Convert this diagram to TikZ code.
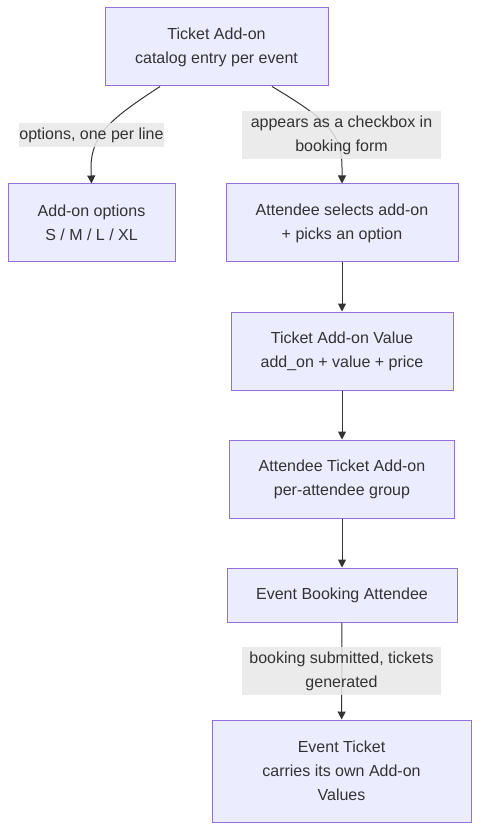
\documentclass[tikz,border=0pt]{standalone}
\usepackage{fontspec}
\setmainfont{Liberation Sans}
\usepackage{tikz}
\usetikzlibrary{calc,arrows.meta,positioning}

\definecolor{boxfill}{HTML}{ECECFF}
\definecolor{boxline}{HTML}{9370DB}
\definecolor{ink}{HTML}{333333}
\definecolor{labelfill}{HTML}{E8E8E8}

\begin{document}
\begin{tikzpicture}[
  x=0.75pt, y=-0.75pt,
  box/.style={rectangle, draw=boxline, fill=boxfill, line width=0.75pt, text=ink, align=center,
    font=\fontsize{12}{18}\selectfont, inner sep=0pt},
  edge label/.style={rectangle, fill=labelfill, fill opacity=0.85, text opacity=1, text=ink, align=center,
    font=\fontsize{12}{18}\selectfont, inner sep=0pt},
  link/.style={draw=ink, line width=0.75pt, -{Triangle[length=6pt,width=6pt]}}
]
  \useasboundingbox (0,0) rectangle (480,830);
  \node[box, minimum width=223*0.75pt, minimum height=78*0.75pt] (addon)  at (216.5, 47)  {Ticket Add-on\\catalog entry per event};
  \node[box, minimum width=167*0.75pt, minimum height=78*0.75pt] (opts)   at (91.5, 223)  {Add-on options\\S / M / L / XL};
  \node[box, minimum width=232*0.75pt, minimum height=78*0.75pt] (select) at (342, 223)   {Attendee selects add-on\\+ picks an option};
  \node[box, minimum width=222*0.75pt, minimum height=78*0.75pt] (value)  at (342, 351)   {Ticket Add-on Value\\add\_on + value + price};
  \node[box, minimum width=225*0.75pt, minimum height=78*0.75pt] (group)  at (342, 479)   {Attendee Ticket Add-on\\per-attendee group};
  \node[box, minimum width=230*0.75pt, minimum height=54*0.75pt] (booking) at (342, 595)  {Event Booking Attendee};
  \node[box, minimum width=259*0.75pt, minimum height=102*0.75pt] (ticket) at (341.5, 771) {Event Ticket\\carries its own Add-on\\Values};
  % edges first, labels on top
  \draw[link] ($(addon.south)+(-56.5,0)$) .. controls (112,118) and (91,134) .. (91,168) -- (opts.north);
  \draw[link] ($(addon.south)+(55.5,0)$) .. controls (328,120) and (342,134) .. (342,168) -- (select.north);
  \draw[link] (select) -- (value);
  \draw[link] (value) -- (group);
  \draw[link] (group) -- (booking);
  \draw[link] (booking) -- (ticket);
  \node[edge label, minimum width=143*0.75pt, minimum height=24*0.75pt] (l1) at (91.5, 135)  {options, one per line};
  \node[edge label, minimum width=199*0.75pt, minimum height=48*0.75pt] (l2) at (341.5, 135) {appears as a checkbox in\\booking form};
  \node[edge label, minimum width=199*0.75pt, minimum height=48*0.75pt] (l3) at (341.5, 671) {booking submitted, tickets\\generated};
\end{tikzpicture}
\end{document}
